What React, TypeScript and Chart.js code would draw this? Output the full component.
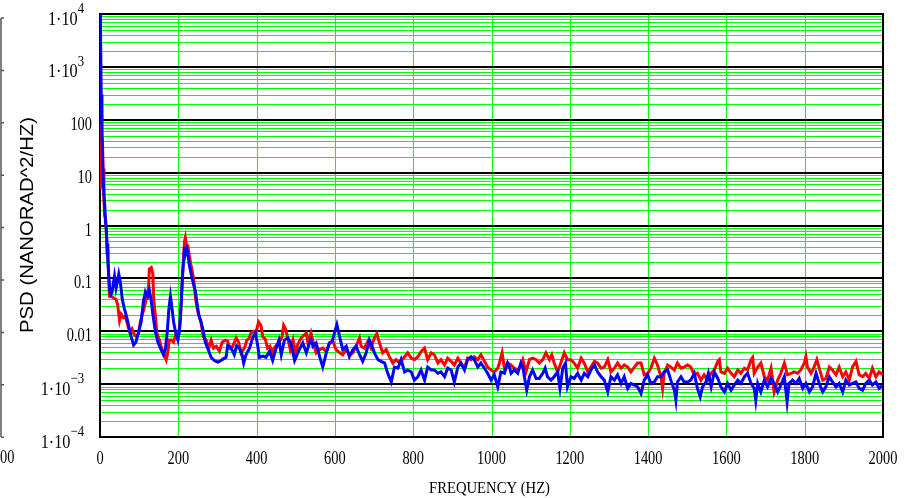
import React, { useEffect, useRef } from "react";
import { Chart, registerables } from "chart.js";

Chart.register(...registerables);

// ---- axis definitions ----
const xTickValues = [0, 200, 400, 600, 800, 1000, 1200, 1400, 1600, 1800, 2000];
const yDecades = [1e-4, 1e-3, 1e-2, 1e-1, 1, 10, 100, 1e3, 1e4];
const yMinorFactors = [2, 3, 4, 5, 6, 7, 8, 9];
// label text per decade: plain text, or "1·10" with an exponent
const yLabelBase = ["1·10", "1·10", "0.01", "0.1", "1", "10", "100", "1·10", "1·10"];
const yLabelExp = ["−4", "−3", "", "", "", "", "", "3", "4"];

const xTitle = "FREQUENCY (HZ)";
const yTitle = "PSD (NANORAD^2/HZ)";

// ---- blue series ----
const blueFreq = [
  0, 1.5, 3, 5, 7, 10, 12, 14, 16, 18,
  20, 22, 25, 28, 31, 34, 37, 41, 45, 48,
  52, 57, 62, 67, 71, 76, 80, 86, 92, 99,
  105, 111, 116, 122, 126, 131, 135, 142, 148, 156,
  162, 167, 172, 176, 180, 184, 188, 193, 199, 203,
  207, 211, 216, 218, 222, 225, 228, 233, 239, 244,
  247, 252, 258, 264, 269, 275, 284, 292, 301, 309,
  315, 322, 326, 335, 343, 349, 356, 363, 367, 373,
  382, 390, 397, 403, 407, 416, 424, 433, 441, 450,
  457, 463, 471, 480, 488, 497, 509, 518, 527, 535,
  539, 544, 552, 561, 569, 578, 586, 593, 599, 605,
  612, 620, 629, 637, 646, 654, 663, 671, 680, 688,
  692, 701, 710, 718, 727, 735, 744, 752, 761, 769,
  778, 786, 795, 803, 812, 820, 829, 837, 846, 854,
  863, 871, 880, 888, 897, 905, 914, 922, 931, 939,
  948, 956, 965, 973, 982, 990, 999, 1007, 1016, 1024,
  1033, 1041, 1046, 1050, 1058, 1067, 1075, 1080, 1084, 1090,
  1097, 1105, 1114, 1122, 1131, 1137, 1143, 1152, 1160, 1169,
  1175, 1182, 1189, 1194, 1203, 1211, 1220, 1229, 1237, 1246,
  1254, 1263, 1271, 1280, 1288, 1297, 1305, 1314, 1322, 1331,
  1339, 1348, 1356, 1365, 1373, 1382, 1390, 1399, 1407, 1416,
  1424, 1433, 1441, 1450, 1458, 1467, 1471, 1475, 1484, 1492,
  1501, 1509, 1518, 1526, 1533, 1539, 1548, 1554, 1561, 1569,
  1578, 1586, 1595, 1603, 1612, 1620, 1629, 1637, 1646, 1654,
  1663, 1671, 1675, 1680, 1688, 1697, 1705, 1714, 1722, 1731,
  1739, 1748, 1755, 1760, 1769, 1778, 1786, 1795, 1803, 1812,
  1820, 1829, 1837, 1846, 1854, 1863, 1871, 1880, 1888, 1897,
  1905, 1914, 1922, 1931, 1939, 1948, 1956, 1965, 1973, 1982,
  1990, 2000,
];
const bluePsd = [
  12000, 3000, 300, 60, 12, 4, 2.5, 1.2, 0.9, 0.45,
  0.22, 0.12, 0.06, 0.05, 0.055, 0.08, 0.11, 0.065, 0.09, 0.12,
  0.085, 0.04, 0.027, 0.02, 0.015, 0.01, 0.0077, 0.0055, 0.0063, 0.01,
  0.015, 0.037, 0.056, 0.046, 0.06, 0.037, 0.021, 0.0093, 0.0062, 0.0045,
  0.0036, 0.0045, 0.01, 0.027, 0.046, 0.027, 0.015, 0.0096, 0.0068, 0.01,
  0.032, 0.12, 0.4, 0.28, 0.36, 0.28, 0.18, 0.12, 0.077, 0.056,
  0.037, 0.021, 0.015, 0.01, 0.0062, 0.0048, 0.0032, 0.0028, 0.0026, 0.0028,
  0.003, 0.0032, 0.0053, 0.0048, 0.0036, 0.0053, 0.0048, 0.0036, 0.0025, 0.0036,
  0.0048, 0.0075, 0.0093, 0.0053, 0.0032, 0.0034, 0.0032, 0.0042, 0.0028, 0.0048,
  0.0068, 0.0036, 0.0068, 0.0075, 0.0058, 0.0028, 0.0045, 0.006, 0.0039, 0.006,
  0.0069, 0.0052, 0.006, 0.0033, 0.0021, 0.0039, 0.006, 0.0064, 0.0093, 0.0134,
  0.008, 0.0045, 0.0052, 0.0033, 0.0045, 0.0052, 0.0036, 0.0027, 0.0039, 0.0069,
  0.006, 0.0039, 0.0029, 0.0027, 0.0025, 0.0016, 0.0011, 0.0021, 0.002, 0.0029,
  0.0017, 0.00185, 0.0017, 0.00119, 0.00138, 0.00185, 0.00119, 0.0021, 0.00185, 0.00185,
  0.0016, 0.0017, 0.00138, 0.002, 0.00185, 0.0011, 0.0021, 0.0025, 0.00185, 0.0029,
  0.0033, 0.0029, 0.0021, 0.0025, 0.002, 0.0016, 0.00119, 0.0015, 0.00089, 0.0017,
  0.0016, 0.0025, 0.0021, 0.0016, 0.00185, 0.0016, 0.0025, 0.0021, 0.00138, 0.00077,
  0.00138, 0.00185, 0.00128, 0.00128, 0.0016, 0.002, 0.00138, 0.00119, 0.00138, 0.0017,
  0.00083, 0.002, 0.0025, 0.00089, 0.00138, 0.00128, 0.0016, 0.00119, 0.0016, 0.00138,
  0.00185, 0.0023, 0.0017, 0.00138, 0.00119, 0.00071, 0.00138, 0.00119, 0.0015, 0.00103,
  0.00138, 0.00083, 0.00103, 0.00096, 0.00089, 0.00066, 0.00119, 0.0015, 0.00103, 0.0011,
  0.00138, 0.00138, 0.0017, 0.00185, 0.00119, 0.00077, 0.00049, 0.0011, 0.00138, 0.0011,
  0.0011, 0.00119, 0.0016, 0.00083, 0.00057, 0.00089, 0.0011, 0.0016, 0.00089, 0.0017,
  0.00128, 0.00089, 0.00071, 0.00103, 0.00077, 0.00096, 0.00119, 0.00103, 0.00138, 0.0016,
  0.00103, 0.00083, 0.00049, 0.00103, 0.00071, 0.00119, 0.00089, 0.00128, 0.00103, 0.00071,
  0.00096, 0.00138, 0.00046, 0.00103, 0.00119, 0.00103, 0.00128, 0.00083, 0.00103, 0.00071,
  0.00089, 0.0016, 0.00103, 0.00071, 0.00089, 0.00138, 0.0011, 0.00089, 0.00103, 0.00071,
  0.00119, 0.00096, 0.00103, 0.0011, 0.00083, 0.00077, 0.00103, 0.00119, 0.00096, 0.0011,
  0.00083, 0.00096,
];

// ---- red series ----
const redFreq = [
  0, 1, 2, 3, 4, 5, 6, 8, 10, 12,
  14, 16, 18, 20, 22, 24, 31, 36, 41, 45,
  50, 54, 60, 65, 71, 77, 82, 88, 94, 99,
  103, 108, 112, 118, 124, 126, 131, 135, 137, 142,
  145, 150, 156, 162, 169, 173, 177, 182, 188, 195,
  201, 205, 208, 211, 216, 218, 222, 225, 228, 233,
  239, 244, 248, 254, 258, 264, 271, 278, 284, 290,
  297, 305, 312, 320, 326, 332, 339, 348, 354, 360,
  369, 375, 380, 386, 392, 399, 405, 411, 416, 422,
  428, 434, 440, 445, 451, 458, 465, 469, 474, 480,
  486, 493, 499, 505, 514, 522, 527, 531, 539, 545,
  552, 561, 569, 578, 586, 595, 603, 612, 620, 629,
  637, 646, 654, 663, 667, 675, 684, 692, 701, 707,
  714, 722, 731, 739, 748, 756, 765, 778, 786, 795,
  803, 812, 820, 829, 837, 846, 854, 863, 871, 880,
  888, 897, 905, 914, 922, 931, 939, 948, 956, 965,
  973, 982, 990, 999, 1007, 1016, 1020, 1027, 1033, 1041,
  1050, 1058, 1067, 1075, 1080, 1088, 1097, 1105, 1114, 1122,
  1131, 1139, 1148, 1154, 1160, 1169, 1177, 1186, 1194, 1203,
  1211, 1220, 1229, 1237, 1246, 1254, 1263, 1271, 1280, 1288,
  1297, 1305, 1314, 1322, 1331, 1339, 1348, 1356, 1365, 1373,
  1382, 1390, 1399, 1407, 1416, 1424, 1433, 1437, 1441, 1450,
  1458, 1467, 1475, 1484, 1492, 1501, 1509, 1518, 1526, 1535,
  1543, 1552, 1561, 1569, 1578, 1582, 1586, 1595, 1603, 1612,
  1620, 1629, 1637, 1646, 1654, 1663, 1667, 1671, 1680, 1688,
  1697, 1705, 1714, 1722, 1731, 1739, 1748, 1756, 1765, 1773,
  1782, 1790, 1799, 1803, 1807, 1816, 1824, 1831, 1837, 1846,
  1854, 1863, 1871, 1880, 1888, 1897, 1905, 1914, 1922, 1931,
  1939, 1948, 1956, 1965, 1973, 1982, 1990, 2000,
];
const redPsd = [
  2800, 5, 400, 60, 120, 30, 45, 12, 3, 1.5,
  1.4, 0.75, 0.3, 0.35, 0.12, 0.046, 0.045, 0.042, 0.04, 0.032,
  0.016, 0.021, 0.018, 0.019, 0.013, 0.0093, 0.011, 0.0086, 0.0078, 0.0093,
  0.015, 0.021, 0.026, 0.04, 0.065, 0.15, 0.16, 0.12, 0.042, 0.018,
  0.0093, 0.0075, 0.0052, 0.004, 0.0029, 0.0039, 0.0068, 0.0068, 0.0062, 0.0093,
  0.0093, 0.015, 0.037, 0.12, 0.51, 0.59, 0.35, 0.38, 0.27, 0.17,
  0.1, 0.042, 0.027, 0.018, 0.015, 0.0078, 0.0068, 0.0048, 0.0068, 0.0048,
  0.0052, 0.0042, 0.0062, 0.0068, 0.0065, 0.0048, 0.0052, 0.0075, 0.0062, 0.0039,
  0.0048, 0.0068, 0.0072, 0.0093, 0.01, 0.0097, 0.015, 0.013, 0.0078, 0.0072,
  0.0048, 0.0052, 0.0039, 0.0048, 0.0055, 0.0062, 0.0078, 0.013, 0.011, 0.0072,
  0.0045, 0.0069, 0.0039, 0.0056, 0.0075, 0.0086, 0.0093, 0.006, 0.0093, 0.006,
  0.0039, 0.0045, 0.0048, 0.0041, 0.006, 0.0064, 0.0045, 0.0039, 0.0036, 0.0045,
  0.0036, 0.0039, 0.0052, 0.0075, 0.0052, 0.0048, 0.0064, 0.0048, 0.0075, 0.009,
  0.006, 0.0039, 0.0045, 0.0033, 0.0025, 0.0029, 0.0025, 0.0033, 0.0039, 0.0031,
  0.0029, 0.0033, 0.0041, 0.0048, 0.0029, 0.0039, 0.0036, 0.0025, 0.0029, 0.0023,
  0.0031, 0.0027, 0.0023, 0.0031, 0.0025, 0.002, 0.0031, 0.0029, 0.0033, 0.0029,
  0.0036, 0.0027, 0.0021, 0.00185, 0.0017, 0.002, 0.0025, 0.0039, 0.002, 0.0025,
  0.0023, 0.002, 0.00185, 0.0023, 0.0029, 0.0017, 0.0029, 0.0031, 0.0029, 0.0025,
  0.0029, 0.0039, 0.0029, 0.0036, 0.0025, 0.0017, 0.0025, 0.0039, 0.0029, 0.0029,
  0.0025, 0.002, 0.0031, 0.0025, 0.0017, 0.0021, 0.0027, 0.0025, 0.002, 0.0021,
  0.0029, 0.0017, 0.002, 0.0025, 0.002, 0.0023, 0.0021, 0.0017, 0.0021, 0.0025,
  0.0025, 0.0015, 0.0016, 0.002, 0.0031, 0.0023, 0.00138, 0.00083, 0.0016, 0.0023,
  0.0021, 0.00185, 0.0025, 0.002, 0.0021, 0.0023, 0.0021, 0.0015, 0.0016, 0.00119,
  0.0015, 0.00119, 0.0016, 0.00185, 0.0027, 0.0029, 0.0017, 0.0016, 0.002, 0.0016,
  0.00138, 0.00185, 0.0016, 0.002, 0.00185, 0.0029, 0.0032, 0.0016, 0.0021, 0.0025,
  0.00138, 0.00119, 0.002, 0.00071, 0.00119, 0.0016, 0.0025, 0.0015, 0.0016, 0.0017,
  0.0016, 0.00185, 0.0025, 0.0033, 0.0021, 0.0016, 0.0021, 0.0029, 0.002, 0.00119,
  0.00128, 0.0021, 0.00185, 0.0015, 0.0021, 0.00138, 0.0017, 0.00119, 0.0021, 0.0027,
  0.0015, 0.00138, 0.0016, 0.00128, 0.002, 0.00138, 0.0017, 0.0015,
];

const W = 910;
const H = 498;
const SERIF = '"Liberation Serif", "Times New Roman", serif';
const SANS = '"Liberation Sans", Arial, sans-serif';
const GREEN = "#00ff00";

function drawText(
  ctx: CanvasRenderingContext2D,
  text: string,
  x: number,
  y: number,
  font: string,
  align: CanvasTextAlign,
  sx: number
) {
  ctx.save();
  ctx.font = font;
  ctx.textAlign = align;
  ctx.textBaseline = "alphabetic";
  ctx.fillStyle = "#000";
  ctx.translate(x, y);
  ctx.scale(sx, 1);
  ctx.fillText(text, 0, 0);
  ctx.restore();
}

const gridPlugin = {
  id: "psdGrid",
  beforeDatasetsDraw(chart: any) {
    const ctx: CanvasRenderingContext2D = chart.ctx;
    const { left, right, top, bottom } = chart.chartArea;
    const xs = chart.scales.x;
    const ys = chart.scales.y;
    ctx.save();
    // minor horizontal (green)
    ctx.strokeStyle = GREEN;
    ctx.lineWidth = 1;
    for (let i = 0; i < yDecades.length - 1; i++) {
      for (const k of yMinorFactors) {
        const y = Math.round(ys.getPixelForValue(yDecades[i] * k)) + 0.5;
        ctx.beginPath();
        ctx.moveTo(left, y);
        ctx.lineTo(right, y);
        ctx.stroke();
      }
    }
    // vertical (green)
    for (const v of xTickValues) {
      if (v === xTickValues[0] || v === xTickValues[xTickValues.length - 1]) continue;
      const x = Math.round(xs.getPixelForValue(v)) + 0.5;
      ctx.beginPath();
      ctx.moveTo(x, top);
      ctx.lineTo(x, bottom);
      ctx.stroke();
    }
    // decades (black)
    ctx.strokeStyle = "#000";
    ctx.lineWidth = 2;
    for (const d of yDecades) {
      const y = Math.round(ys.getPixelForValue(d));
      ctx.beginPath();
      ctx.moveTo(left - 1, y);
      ctx.lineTo(right + 1, y);
      ctx.stroke();
    }
    // frame left / right
    ctx.beginPath();
    ctx.moveTo(left, top - 1);
    ctx.lineTo(left, bottom + 1);
    ctx.moveTo(right, top - 1);
    ctx.lineTo(right, bottom + 1);
    ctx.stroke();
    ctx.restore();
  },
  afterDraw(chart: any) {
    const ctx: CanvasRenderingContext2D = chart.ctx;
    const xs = chart.scales.x;
    const ys = chart.scales.y;
    const { left, right } = chart.chartArea;

    // x tick labels
    for (const v of xTickValues) {
      drawText(ctx, String(v), xs.getPixelForValue(v), 464, `18px ${SERIF}`, "center", 0.8);
    }
    // y tick labels
    for (let i = 0; i < yDecades.length; i++) {
      const y = ys.getPixelForValue(yDecades[i]);
      const exp = yLabelExp[i];
      if (!exp) {
        drawText(ctx, yLabelBase[i], 92, y + 10, `18px ${SERIF}`, "right", 0.8);
      } else {
        ctx.save();
        ctx.font = `15px ${SERIF}`;
        const ew = ctx.measureText(exp).width * 0.85;
        ctx.restore();
        const supRight = 84;
        drawText(ctx, exp, supRight, y - 1, `15px ${SERIF}`, "right", 0.85);
        drawText(ctx, yLabelBase[i], supRight - ew, y + 10.5, `18px ${SERIF}`, "right", 0.9);
      }
    }
    // x title (fit width ~121px)
    ctx.save();
    ctx.font = `17px ${SERIF}`;
    const xtW = ctx.measureText(xTitle).width;
    ctx.restore();
    drawText(ctx, xTitle, (left + right) / 2 - 2, 493, `17px ${SERIF}`, "center", 121 / xtW);

    // y title rotated (fit length ~216px)
    ctx.save();
    ctx.font = `18px ${SANS}`;
    const ytW = ctx.measureText(yTitle).width;
    ctx.translate(33, 225);
    ctx.rotate(-Math.PI / 2);
    ctx.scale(216 / ytW, 1);
    ctx.fillStyle = "#000";
    ctx.textAlign = "center";
    ctx.textBaseline = "alphabetic";
    ctx.fillText(yTitle, 0, 0);
    ctx.restore();

    // fragment of neighbouring figure at the far left
    ctx.save();
    ctx.strokeStyle = "#555";
    ctx.lineWidth = 1.5;
    ctx.beginPath();
    ctx.moveTo(1, 18);
    ctx.lineTo(1, 437);
    for (let k = 0; k <= 8; k++) {
      const ty = 18 + k * 52.4;
      ctx.moveTo(1, ty);
      ctx.lineTo(4, ty);
    }
    ctx.stroke();
    ctx.restore();
    drawText(ctx, "00", 0, 463, `18px ${SERIF}`, "left", 0.8);
  },
};

export default function App() {
  const canvasRef = useRef<HTMLCanvasElement | null>(null);

  useEffect(() => {
    document.body.style.margin = "0";
    const canvas = canvasRef.current;
    if (!canvas) return;
    const chart = new Chart(canvas, {
      type: "line",
      data: {
        datasets: [
          {
            label: "blue",
            data: blueFreq.map((f, i) => ({ x: f, y: bluePsd[i] })),
            borderColor: "#0000ff",
            borderWidth: 3,
            pointRadius: 0,
            tension: 0,
            order: 0,
          },
          {
            label: "red",
            data: redFreq.map((f, i) => ({ x: f, y: redPsd[i] })),
            borderColor: "#ff0000",
            borderWidth: 3,
            pointRadius: 0,
            tension: 0,
            order: 1,
          },
        ],
      },
      options: {
        animation: false,
        responsive: false,
        maintainAspectRatio: false,
        events: [],
        layout: { padding: { left: 0, right: 27, top: 14, bottom: 0 } },
        plugins: { legend: { display: false }, tooltip: { enabled: false } },
        scales: {
          x: {
            type: "linear",
            min: 0,
            max: 2000,
            ticks: { display: false },
            grid: { display: false },
            border: { display: false },
            afterFit: (s: any) => {
              s.height = 61;
            },
          },
          y: {
            type: "logarithmic",
            min: 1e-4,
            max: 1e4,
            ticks: { display: false },
            grid: { display: false },
            border: { display: false },
            afterFit: (s: any) => {
              s.width = 100;
            },
          },
        },
      },
      plugins: [gridPlugin],
    });
    return () => chart.destroy();
  }, []);

  return (
    <div style={{ width: W, height: H, background: "#fff" }}>
      <canvas ref={canvasRef} width={W} height={H} style={{ display: "block" }} />
    </div>
  );
}
